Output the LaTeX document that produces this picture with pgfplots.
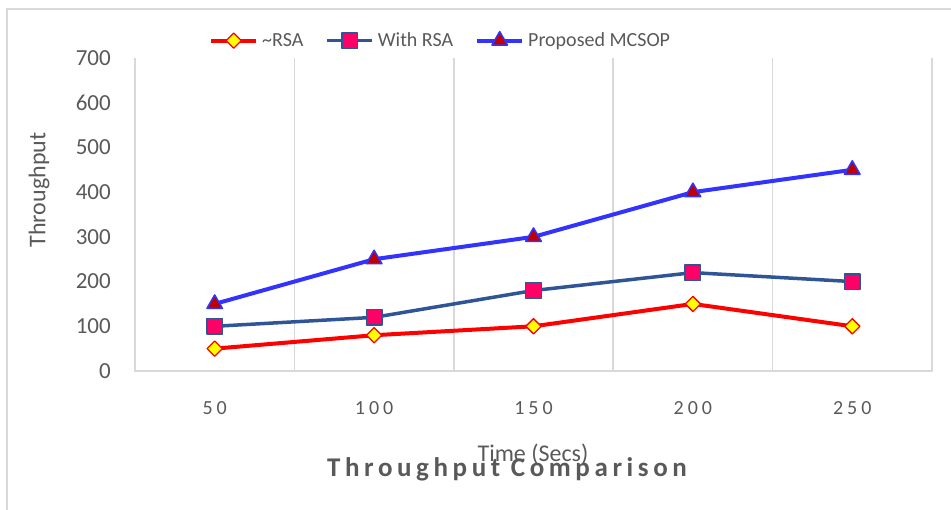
\documentclass[border=0pt]{standalone}
\usepackage{pgfplots}
\pgfplotsset{compat=1.18}
\usepackage{fontspec}
\setmainfont{Carlito}
\newfontfamily\spacedfont[LetterSpace=20]{Carlito}
\newfontfamily\titlefont[LetterSpace=17]{Carlito}

\definecolor{txt}{HTML}{595959}
\definecolor{frame}{HTML}{D9D9D9}
\definecolor{rsaRed}{HTML}{FF0000}
\definecolor{rsaYellow}{HTML}{FFFF00}
\definecolor{withBlue}{HTML}{2F5597}
\definecolor{withPink}{HTML}{FF0066}
\definecolor{mcBlue}{HTML}{3333FF}
\definecolor{mcRed}{HTML}{C00000}

\begin{document}
\begin{tikzpicture}[x=1pt,y=1pt]
\useasboundingbox (0,0) rectangle (951,-510);
% outer chart frame
\draw[frame, line width=2pt] (7,-510) -- (7,-9) -- (951,-9);

\begin{axis}[
  at={(135pt,-371pt)}, anchor=south west,
  scale only axis, width=797pt, height=313pt,
  xmin=0.5, xmax=5.5, ymin=0, ymax=700,
  xtick={1,2,3,4,5},
  xticklabels={50,100,150,200,250},
  ytick={0,100,...,700},
  minor xtick={1.5,2.5,3.5,4.5},
  xminorgrids=true,
  minor grid style={frame, line width=1.5pt},
  major tick length=0pt, minor tick length=0pt,
  axis line style={draw=none},
  clip=false,
  /pgf/number format/assume math mode=true,
  xticklabel style={font=\spacedfont\fontsize{20}{24}\selectfont, text=txt, anchor=base, inner sep=0pt, yshift=-44pt},
  yticklabel style={font=\fontsize{23}{26}\selectfont, text=txt, anchor=east, inner sep=0pt, xshift=-24pt},
  legend columns=3,
  legend image code/.code={\draw[mark repeat=2, mark phase=2] plot coordinates {(0pt,0pt) (22.5pt,0pt) (45pt,0pt)};},
  legend style={at={(0.0891,1.0575)}, anchor=west, draw=none, fill=none,
    font=\fontsize{20}{24}\selectfont, text=txt, nodes={inner sep=0pt},
    /tikz/every odd column/.append style={column sep=4pt},
    /tikz/every even column/.append style={column sep=22pt}},
]
% plot area border (left, bottom, right)
\draw[frame, line width=1.5pt] (rel axis cs:0,1) -- (rel axis cs:0,0) -- (rel axis cs:1,0) -- (rel axis cs:1,1);

\addplot[rsaRed, line width=4pt, line join=round, mark=square*, mark size=5.4pt,
  mark options={rotate=45, fill=rsaYellow, draw=rsaRed, line width=1.3pt}]
  coordinates {(1,50) (2,80) (3,100) (4,150) (5,100)};
\addlegendentry{\textasciitilde RSA}

\addplot[withBlue, line width=3.5pt, line join=round, mark=square*, mark size=7.8pt,
  mark options={fill=withPink, draw=withBlue, line width=1.5pt}]
  coordinates {(1,100) (2,120) (3,180) (4,220) (5,200)};
\addlegendentry{With RSA}

\addplot[mcBlue, line width=4pt, line join=round, mark=triangle*, mark size=9pt,
  mark options={fill=mcRed, draw=mcBlue, line width=1.5pt}]
  coordinates {(1,150) (2,250) (3,300) (4,400) (5,450)};
\addlegendentry{Proposed MCSOP}
\end{axis}

\node[rotate=90, text=txt, font=\fontsize{24}{28}\selectfont] at (39,-190) {Throughput};
\node[anchor=base, text=txt, font=\fontsize{24}{28}\selectfont] at (533,-462) {Time (Secs)};
\node[anchor=base, text=txt, font=\titlefont\bfseries\fontsize{27}{31}\selectfont] at (507,-477) {Throughput Comparison};
\end{tikzpicture}
\end{document}
